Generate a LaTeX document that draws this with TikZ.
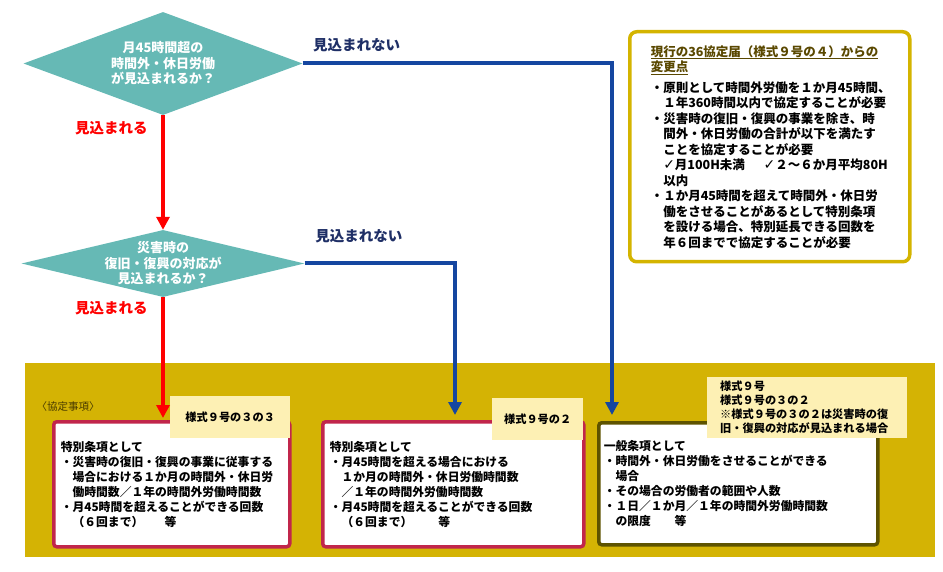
\documentclass[tikz,border=0pt]{standalone}
\usepackage{fontspec}
\setmainfont{Noto Sans CJK JP}
\newfontfamily\symfont{DejaVu Sans}
\usetikzlibrary{shapes.geometric,arrows.meta}
\definecolor{qteal}{HTML}{66B9B5}
\definecolor{band}{HTML}{D4B304}
\definecolor{crimson}{HTML}{C1264B}
\definecolor{olive}{HTML}{5E5300}
\definecolor{navy}{HTML}{1546A0}
\definecolor{navytext}{HTML}{1F2F66}
\definecolor{note}{HTML}{FDF0B4}
\definecolor{gold}{HTML}{D4B400}
\definecolor{brown}{HTML}{5A4800}
\newcommand{\qfont}{\fontsize{13}{15.5}\selectfont\bfseries}
\newcommand{\lfont}{\fontsize{14.5}{17}\selectfont\bfseries}
\newcommand{\bfont}{\fontsize{11.8}{15}\selectfont\bfseries}
\newcommand{\nfont}{\fontsize{12.5}{15.5}\selectfont\bfseries}
\newcommand{\tfont}{\fontsize{11.2}{14}\selectfont\bfseries}
\newcommand{\indnt}{\hspace*{1em}}
\newcommand{\chk}{{\symfont\bfseries\fontsize{14}{15.5}\selectfont ✓}}

\begin{document}
\begin{tikzpicture}[x=1pt,y=-1pt,
    question/.style={diamond,fill=qteal,inner sep=0pt},
    qtext/.style={text=white,align=center,font=\qfont},
    yesline/.style={draw=red,line width=4pt,-{Triangle[width=13pt,length=13pt]}},
    noline/.style={draw=navy,line width=4pt,-{Triangle[width=13pt,length=13pt]}},
    yeslabel/.style={text=red,font=\lfont},
    nolabel/.style={text=navytext,font=\lfont},
    formbox/.style={anchor=north west,fill=white,line width=3.5pt,rounded corners=3pt,align=left,font=\bfont,inner xsep=7pt},
    formtag/.style={anchor=north west,fill=note,font=\tfont}]
  \useasboundingbox (0,0) rectangle (943,572);
  \fill[band] (25,363) rectangle (935,557);

  \node[question,minimum width=279pt,minimum height=103pt,
    label={[qtext]center:{月45時間超の\\時間外・休日労働\\が見込まれるか？}}] (1) at (163,63.5) {};
  \node[question,minimum width=283pt,minimum height=67pt,
    label={[qtext]center:{災害時の\\復旧・復興の対応が\\見込まれるか？}}] (2) at (163,263.5) {};

  \node[draw=gold,fill=white,line width=3.5pt,rounded corners=7pt,anchor=north west,
    minimum height=230pt,text width=238pt,inner xsep=21pt,align=left,font=\nfont] (6) at (628,30)
    {{\color{brown}\underline{現行の36協定届（様式９号の４）からの}\\
     \underline{変更点}}\\[5pt]
     ・原則として時間外労働を１か月45時間、\\
     \indnt １年360時間以内で協定することが必要\\
     ・災害時の復旧・復興の事業を除き、時\\
     \indnt 間外・休日労働の合計が以下を満たす\\
     \indnt ことを協定することが必要\\
     \indnt \chk 月100H未満\hspace{1.5em}\chk ２～６か月平均80H\\
     \indnt 以内\\
     ・１か月45時間を超えて時間外・休日労\\
     \indnt 働をさせることがあるとして特別条項\\
     \indnt を設ける場合、特別延長できる回数を\\
     \indnt 年６回までで協定することが必要};

  \node[anchor=west,text=brown!80!black,font=\fontsize{10.5}{12}\selectfont] (10) at (33,407) {〈協定事項〉};

  \node[formbox,draw=crimson,minimum width=236pt,minimum height=125pt,text width=222pt] (3) at (52,420)
    {特別条項として\\
     ・災害時の復旧・復興の事業に従事する\\
     \indnt 場合における１か月の時間外・休日労\\
     \indnt 働時間数／１年の時間外労働時間数\\
     ・月45時間を超えることができる回数\\
     \indnt （６回まで）\hspace{1.8em}等};
  \node[formbox,draw=crimson,minimum width=261pt,minimum height=125pt,text width=247pt] (4) at (321,420)
    {特別条項として\\
     ・月45時間を超える場合における\\
     \indnt １か月の時間外・休日労働時間数\\
     \indnt ／１年の時間外労働時間数\\
     ・月45時間を超えることができる回数\\
     \indnt （６回まで）\hspace{2.2em}等};
  \node[formbox,draw=olive,minimum width=279pt,minimum height=122pt,text width=269pt,inner xsep=5pt] (5) at (597,421)
    {一般条項として\\
     ・時間外・休日労働をさせることができる\\
     \indnt 場合\\
     ・その場合の労働者の範囲や人数\\
     ・１日／１か月／１年の時間外労働時間数\\
     \indnt の限度\hspace{2em}等};

  \node[formtag,minimum width=120pt,minimum height=42pt] (7) at (170,396) {様式９号の３の３};
  \node[formtag,minimum width=91pt,minimum height=42pt] (8) at (492,398) {様式９号の２};
  \node[formtag,minimum height=61pt,text width=174pt,inner xsep=13pt,align=left] (9) at (707,377)
    {様式９号\\様式９号の３の２\\※様式９号の３の２は災害時の復\\旧・復興の対応が見込まれる場合};

  \coordinate (c0) at (163,418);
  \coordinate (c1) at (612,415);
  \coordinate (c2) at (455,415);

  \draw[yesline] (1.south) -- node[pos=0.11,left=10pt,yeslabel] {見込まれる} (2.north);
  \draw[yesline] (2.south) -- node[pos=0.09,left=10pt,yeslabel] {見込まれる} (c0);
  \draw[noline] (1.east) -| node[pos=0.087,above=6.5pt,nolabel] {見込まれない} (c1);
  \draw[noline] (2.east) -| node[pos=0.18,above=15pt,nolabel] {見込まれない} (c2);
\end{tikzpicture}
\end{document}
